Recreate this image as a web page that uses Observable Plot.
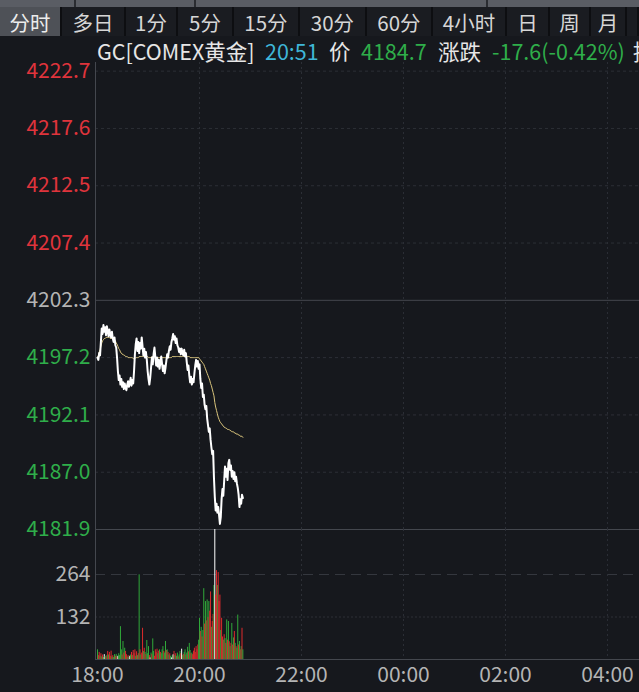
<!DOCTYPE html>
<html><head><meta charset="utf-8">
<script src="https://cdn.jsdelivr.net/npm/d3@7"></script>
<script src="https://cdn.jsdelivr.net/npm/@observablehq/plot@0.6"></script>
<style>
*{box-sizing:border-box}
html,body{margin:0;padding:0;background:#16181d;}
body{width:639px;height:692px;overflow:hidden;position:relative;font-family:"Noto Sans CJK SC","Noto Sans",sans-serif;color:#d8d8d8}
#strip{position:absolute;left:0;top:0;width:639px;height:7px;background:#5a5d64}
#strip i{position:absolute;top:0;width:2px;height:7px;background:#2a2c31}
#tabs{position:absolute;left:0;top:7px;width:639px;height:29px;background:#1a1c21;display:flex}
.tab{flex:none;height:29px;display:flex;align-items:center;justify-content:center;font-size:20.5px;color:#d6d6d6;border-right:2px solid #0d0e11}
.tab.sel{background:#4e5157;color:#ececec}
#hdr{position:absolute;top:37px;left:0;width:639px;height:28px;white-space:nowrap;font-size:21.5px;line-height:28px}
#hdr span{position:absolute;top:0}
.pw{position:absolute;left:0}
</style></head><body>
<div id="strip"><i style="left:74px"></i><i style="left:194px"></i><i style="left:486px"></i></div>
<div id="tabs"></div>
<div class="pw" id="pp" style="top:62px"></div>
<div class="pw" id="vp" style="top:529px"></div>
<div id="hdr"></div>
<script>
// ---- data ----
const tabLabels = ["分时","多日","1分","5分","15分","30分","60分","4小时","日","周","月",""];
const symbolName = "GC[COMEX黄金]";
const lastTime = "20:51";
const lastPrice = "4184.7";
const change = "-17.6(-0.42%)";
const preClose = 4202.3;
const priceTicks = [4222.7, 4217.6, 4212.5, 4207.4, 4202.3, 4197.2, 4192.1, 4187.0, 4181.9];
const volTicks = [132, 264];
const xTickMinutes = [0, 120, 240, 360, 480, 600];
const xTickLabels = ["18:00", "20:00", "22:00", "00:00", "02:00", "04:00"];
// minute index 0 = 18:00, last = 20:51
const price = [
4197.2,4197.0,4197.6,4197.4,4198.6,4199.8,4199.3,4200.1,4199.5,4199.9,
4199.2,4200.0,4199.6,4199.1,4199.7,4199.3,4199.0,4199.5,4198.9,4198.6,
4199.0,4198.3,4198.1,4197.2,4196.0,4195.2,4195.6,4194.8,4195.3,4194.6,
4195.0,4194.4,4194.9,4194.5,4194.3,4194.8,4195.1,4194.6,4194.9,4195.4,
4194.7,4195.2,4194.9,4196.0,4197.5,4198.4,4198.9,4197.8,4198.6,4197.6,
4198.5,4198.0,4199.0,4198.2,4197.4,4198.0,4197.2,4197.7,4197.0,4196.0,
4195.3,4194.8,4195.4,4196.3,4197.2,4196.6,4197.5,4198.1,4197.3,4196.5,
4197.2,4196.4,4197.0,4196.2,4196.8,4197.3,4196.6,4196.0,4196.5,4195.8,
4196.3,4196.9,4197.5,4197.2,4197.8,4198.2,4197.9,4198.6,4198.9,4199.3,
4198.8,4199.1,4198.5,4198.9,4198.3,4198.1,4197.7,4198.0,4197.5,4198.0,
4197.6,4197.4,4197.9,4197.3,4197.6,4196.8,4196.1,4196.5,4195.6,4195.0,
4195.5,4194.8,4195.3,4195.0,4195.8,4196.5,4197.0,4196.4,4196.9,4196.2,
4196.6,4195.3,4194.5,4194.9,4193.7,4193.9,4193.0,4192.6,4192.9,4191.8,
4191.2,4190.6,4190.9,4189.9,4189.2,4188.6,4188.9,4186.5,4184.8,4183.6,
4184.2,4183.4,4183.9,4183.2,4182.4,4183.0,4184.6,4185.5,4184.9,4186.2,
4187.5,4186.6,4187.3,4186.3,4187.8,4188.1,4187.2,4187.6,4186.6,4187.1,
4186.4,4187.0,4186.2,4186.6,4186.0,4185.6,4185.0,4183.9,4184.6,4184.2,
4185.0,4184.7];
const avgPrice = [
4197.2,4197.4,4197.7,4197.9,4198.2,4198.5,4198.7,4198.8,4198.9,4198.9,
4199.0,4199.0,4199.0,4199.0,4199.0,4198.9,4198.9,4198.9,4198.9,4198.8,
4198.8,4198.7,4198.5,4198.4,4198.2,4198.0,4197.9,4197.7,4197.6,4197.5,
4197.5,4197.4,4197.4,4197.3,4197.3,4197.3,4197.2,4197.2,4197.2,4197.2,
4197.2,4197.2,4197.1,4197.1,4197.1,4197.2,4197.2,4197.2,4197.2,4197.3,
4197.3,4197.3,4197.3,4197.3,4197.3,4197.3,4197.3,4197.3,4197.3,4197.3,
4197.2,4197.2,4197.2,4197.2,4197.3,4197.3,4197.3,4197.3,4197.3,4197.2,
4197.2,4197.2,4197.2,4197.2,4197.2,4197.2,4197.2,4197.2,4197.2,4197.2,
4197.2,4197.2,4197.2,4197.2,4197.2,4197.2,4197.2,4197.2,4197.3,4197.3,
4197.3,4197.3,4197.3,4197.3,4197.3,4197.3,4197.3,4197.3,4197.3,4197.3,
4197.3,4197.3,4197.3,4197.3,4197.3,4197.3,4197.3,4197.3,4197.3,4197.2,
4197.2,4197.2,4197.2,4197.2,4197.2,4197.2,4197.2,4197.2,4197.2,4197.2,
4197.1,4197.0,4196.9,4196.8,4196.7,4196.6,4196.4,4196.2,4196.0,4195.8,
4195.6,4195.4,4195.2,4194.9,4194.7,4194.4,4194.1,4193.8,4193.2,4192.8,
4192.5,4192.2,4191.9,4191.7,4191.5,4191.4,4191.3,4191.2,4191.1,4191.0,
4191.0,4190.9,4190.9,4190.8,4190.8,4190.8,4190.7,4190.7,4190.6,4190.6,
4190.6,4190.5,4190.5,4190.4,4190.4,4190.4,4190.3,4190.3,4190.2,4190.2,
4190.2,4190.1];
const volume = [
30,12,22,10,18,8,14,6,15,10,
8,12,25,14,22,10,26,8,12,6,
15,10,16,8,10,18,12,102,30,14,
56,20,35,25,15,8,12,6,10,14,
22,12,28,18,30,10,24,12,18,263,
30,14,20,97,25,35,22,15,59,18,
40,12,5,20,15,64,25,10,30,22,
32,18,26,30,22,18,30,40,25,20,
56,28,30,22,14,18,10,5,12,15,
25,12,18,10,20,8,14,25,18,32,
12,16,22,30,14,20,38,24,50,28,
18,20,15,26,35,22,40,30,45,60,
128,87,100,70,90,220,110,180,120,185,
130,180,150,210,100,118,140,230,460,200,
276,230,270,180,200,90,128,70,60,77,
65,50,123,60,118,55,40,50,112,45,
67,87,50,40,35,138,45,56,30,40,
97,30];
// r = up (red), g = down (green), w = unchanged (white)
const volDir = (
"grrgrgrgwg"+"rgrgrrrgrg"+"grgrwggggr"+"grgrrgrgwg"+"rgrrrgrgrg"+
"rgrrgrgrgg"+"grwgrggrrr"+"rgrgrgggrg"+"grgrgrgwgw"+"rgrggrggrw"+
"grggrggrgg"+"rgrrrrrrrg"+"grgrggrgrg"+"rgrrgrrgwr"+"rgrrrgrrgr"+
"grgrgrgrgr"+"grgrggrgrg"+"rg").split("");

// ---- colors / layout ----
const RED = "#e0343c", GREEN = "#2fae4a", GRAY = "#b4b4b4";
const barColor = {r: "#dd2a2c", g: "#30a93a", w: "#ffffff"};
const FONT = '"Noto Sans CJK SC","Noto Sans",sans-serif';

// toolbar
const tabW = [62,64,52,56,66,67,66,74,43,41,36,12];
const tabs = document.getElementById("tabs");
tabLabels.forEach((t,i) => {
  const d = document.createElement("div");
  d.className = "tab" + (i===0 ? " sel" : "");
  d.style.width = tabW[i] + "px";
  d.textContent = t;
  tabs.appendChild(d);
});
// header
const hdrItems = [
  [symbolName, 97, "#e6e6e6"], [lastTime, 265, "#3fb6d8"], ["价", 329, "#e6e6e6"],
  [lastPrice, 361, GREEN], ["涨跌", 438, "#e6e6e6"], [change, 492, GREEN], ["持仓", 633, "#e6e6e6"]
];
const hdr = document.getElementById("hdr");
hdrItems.forEach(([t,x,c]) => {
  const s = document.createElement("span");
  s.textContent = t; s.style.left = x + "px"; s.style.color = c;
  hdr.appendChild(s);
});

const data = price.map((p,i) => ({t:i, price:p, avg:avgPrice[i], vol:volume[i], color:barColor[volDir[i]]}));
const xDomain = [-2.35, 637.6];
const GRID = "#2c2f36", LINE = "#44474e";

const pricePlot = Plot.plot({
  width: 639, height: 470, marginLeft: 95, marginRight: 0, marginTop: 0, marginBottom: 3,
  x: {domain: xDomain, axis: null},
  y: {domain: [4181.9, 4223.47], axis: null},
  style: {background: "transparent", fontFamily: FONT, overflow: "visible"},
  marks: [
    Plot.ruleY(priceTicks.filter(v => v !== preClose && v !== priceTicks[priceTicks.length-1]), {stroke: GRID, strokeDasharray: "3,3"}),
    Plot.ruleX(xTickMinutes.slice(1), {stroke: GRID, strokeDasharray: "2,3"}),
    Plot.ruleY([preClose, priceTicks[priceTicks.length-1]], {stroke: LINE}),
    Plot.ruleX([xDomain[0]], {stroke: LINE}),
    Plot.text(priceTicks, {x: xDomain[0], y: d => d, text: d => d.toFixed(1), textAnchor: "end", dx: -5,
      fill: d => d > preClose ? RED : d < preClose ? GREEN : GRAY, fontSize: 21}),
    Plot.line(data, {x: "t", y: "avg", stroke: "#d9c47c", strokeWidth: 1}),
    Plot.line(data, {x: "t", y: "price", stroke: "#ffffff", strokeWidth: 2})
  ]
});
document.getElementById("pp").appendChild(pricePlot);

const volPlot = Plot.plot({
  width: 639, height: 163, marginLeft: 95, marginRight: 0, marginTop: 0, marginBottom: 33,
  x: {domain: xDomain, axis: null},
  y: {domain: [0, 403.8], axis: null},
  style: {background: "transparent", fontFamily: FONT, overflow: "visible"},
  marks: [
    Plot.ruleY([volTicks[1]], {stroke: "#34373e", strokeDasharray: "10,6"}),
    Plot.ruleY([volTicks[0]], {stroke: GRID, strokeDasharray: "2,2"}),
    Plot.ruleX(xTickMinutes.slice(1), {stroke: GRID, strokeDasharray: "2,3"}),
    Plot.ruleX([xDomain[0]], {stroke: LINE}),
    Plot.ruleY([0], {stroke: LINE}),
    Plot.ruleX(data, {x: "t", y1: 0, y2: "vol", stroke: "color", strokeWidth: 1, clip: true}),
    Plot.text(volTicks, {x: xDomain[0], y: d => d, text: d => String(d), textAnchor: "end", dx: -5, fill: GRAY, fontSize: 21}),
    Plot.text(xTickMinutes, {x: d => d, y: 0, text: (d,i) => xTickLabels[i], dy: 16, fill: GRAY, fontSize: 21})
  ]
});
document.getElementById("vp").appendChild(volPlot);
</script>
</body></html>
